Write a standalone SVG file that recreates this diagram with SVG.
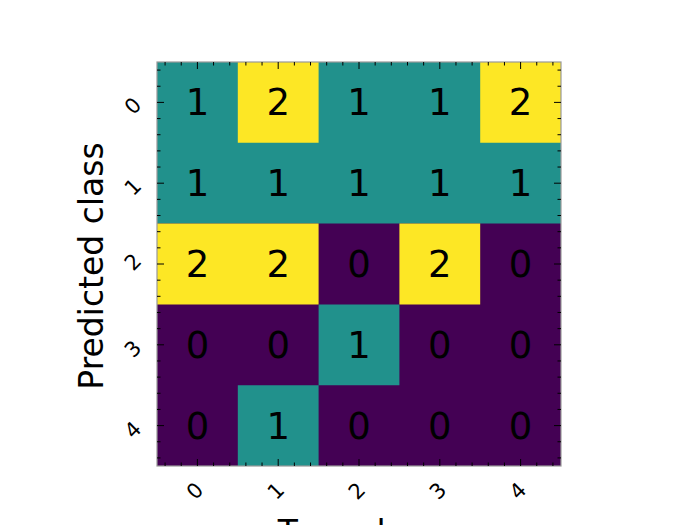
<svg xmlns="http://www.w3.org/2000/svg" width="700" height="525" viewBox="0 0 700 525">
<style>
.c0{fill:#440154}.c1{fill:#21918c}.c2{fill:#fde725}
.v{font-family:"DejaVu Sans","Liberation Sans",sans-serif;font-size:37px;fill:#000;text-anchor:middle}
.tl{font-family:"DejaVu Sans","Liberation Sans",sans-serif;font-size:21px;fill:#000;text-anchor:middle}
.lab{font-family:"DejaVu Sans","Liberation Sans",sans-serif;font-size:33px;fill:#000;text-anchor:middle}
.tk{stroke:#000;stroke-width:1;fill:none}
</style>
<rect width="700" height="525" fill="#fff"/>
<g id="cells">
<rect class="c0" x="157" y="62" width="404" height="404"/>
<path class="c1" d="M157 62H561V223.6H157Z M318.6 304.4H399.4V385.2H318.6Z M237.8 385.2H318.6V466H237.8Z"/>
<path class="c2" d="M237.8 62H318.6V142.8H237.8Z M480.2 62H561V142.8H480.2Z M157 223.6H318.6V304.4H157Z M399.4 223.6H480.2V304.4H399.4Z"/>
</g>
<g id="values">
<text class="v" x="197.4" y="115.4">1</text>
<text class="v" x="278.2" y="115.4">2</text>
<text class="v" x="359" y="115.4">1</text>
<text class="v" x="439.8" y="115.4">1</text>
<text class="v" x="520.6" y="115.4">2</text>
<text class="v" x="197.4" y="196.2">1</text>
<text class="v" x="278.2" y="196.2">1</text>
<text class="v" x="359" y="196.2">1</text>
<text class="v" x="439.8" y="196.2">1</text>
<text class="v" x="520.6" y="196.2">1</text>
<text class="v" x="197.4" y="277">2</text>
<text class="v" x="278.2" y="277">2</text>
<text class="v" x="359" y="277">0</text>
<text class="v" x="439.8" y="277">2</text>
<text class="v" x="520.6" y="277">0</text>
<text class="v" x="197.4" y="357.8">0</text>
<text class="v" x="278.2" y="357.8">0</text>
<text class="v" x="359" y="357.8">1</text>
<text class="v" x="439.8" y="357.8">0</text>
<text class="v" x="520.6" y="357.8">0</text>
<text class="v" x="197.4" y="438.6">0</text>
<text class="v" x="278.2" y="438.6">1</text>
<text class="v" x="359" y="438.6">0</text>
<text class="v" x="439.8" y="438.6">0</text>
<text class="v" x="520.6" y="438.6">0</text>
</g>
<g id="axes">
<rect x="157" y="62" width="404" height="404" fill="none" stroke="#999" stroke-width="1.2"/>
<path class="tk" d="M165.08 62v3.5M181.24 62v3.5M213.56 62v3.5M229.72 62v3.5M245.88 62v3.5M262.04 62v3.5M294.36 62v3.5M310.52 62v3.5M326.68 62v3.5M342.84 62v3.5M375.16 62v3.5M391.32 62v3.5M407.48 62v3.5M423.64 62v3.5M455.96 62v3.5M472.12 62v3.5M488.28 62v3.5M504.44 62v3.5M536.76 62v3.5M552.92 62v3.5
M165.08 466v-3.5M181.24 466v-3.5M213.56 466v-3.5M229.72 466v-3.5M245.88 466v-3.5M262.04 466v-3.5M294.36 466v-3.5M310.52 466v-3.5M326.68 466v-3.5M342.84 466v-3.5M375.16 466v-3.5M391.32 466v-3.5M407.48 466v-3.5M423.64 466v-3.5M455.96 466v-3.5M472.12 466v-3.5M488.28 466v-3.5M504.44 466v-3.5M536.76 466v-3.5M552.92 466v-3.5
M157 70.08h3.5M157 86.24h3.5M157 118.56h3.5M157 134.72h3.5M157 150.88h3.5M157 167.04h3.5M157 199.36h3.5M157 215.52h3.5M157 231.68h3.5M157 247.84h3.5M157 280.16h3.5M157 296.32h3.5M157 312.48h3.5M157 328.64h3.5M157 360.96h3.5M157 377.12h3.5M157 393.28h3.5M157 409.44h3.5M157 441.76h3.5M157 457.92h3.5
M561 70.08h-3.5M561 86.24h-3.5M561 118.56h-3.5M561 134.72h-3.5M561 150.88h-3.5M561 167.04h-3.5M561 199.36h-3.5M561 215.52h-3.5M561 231.68h-3.5M561 247.84h-3.5M561 280.16h-3.5M561 296.32h-3.5M561 312.48h-3.5M561 328.64h-3.5M561 360.96h-3.5M561 377.12h-3.5M561 393.28h-3.5M561 409.44h-3.5M561 441.76h-3.5M561 457.92h-3.5"/>
<path class="tk" d="M197.4 62v7M278.2 62v7M359 62v7M439.8 62v7M520.6 62v7
M197.4 466v-7M278.2 466v-7M359 466v-7M439.8 466v-7M520.6 466v-7
M157 102.4h7M157 183.2h7M157 264h7M157 344.8h7M157 425.6h7
M561 102.4h-7M561 183.2h-7M561 264h-7M561 344.8h-7M561 425.6h-7"/>
</g>
<g id="yticklabels">
<text class="tl" transform="translate(133 106) rotate(-45)" y="7">0</text>
<text class="tl" transform="translate(133 187) rotate(-45)" y="7">1</text>
<text class="tl" transform="translate(133 262) rotate(-45)" y="7">2</text>
<text class="tl" transform="translate(133 349) rotate(-45)" y="7">3</text>
<text class="tl" transform="translate(133 430) rotate(-45)" y="7">4</text>
</g>
<g id="xticklabels">
<text class="tl" transform="translate(195 491) rotate(-45)" y="7">0</text>
<text class="tl" transform="translate(276 491) rotate(-45)" y="7">1</text>
<text class="tl" transform="translate(357 491) rotate(-45)" y="7">2</text>
<text class="tl" transform="translate(438 491) rotate(-45)" y="7">3</text>
<text class="tl" transform="translate(518 491) rotate(-45)" y="7">4</text>
</g>
<text class="lab" transform="translate(103 266) rotate(-90)">Predicted class</text>
<text class="lab" x="359" y="544">True class</text>
</svg>
